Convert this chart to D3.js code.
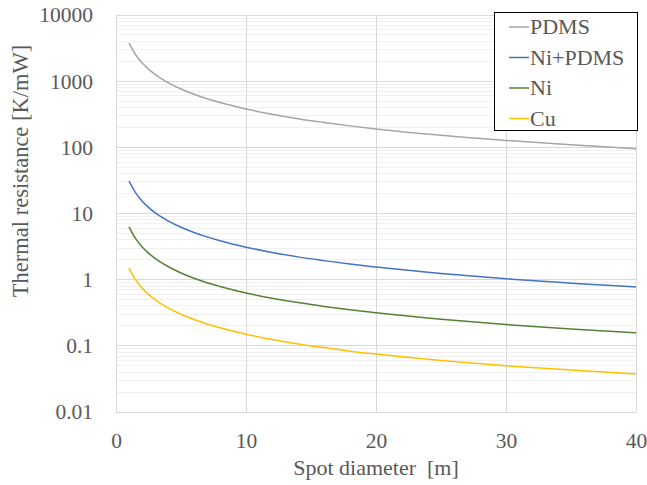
<!DOCTYPE html>
<html><head><meta charset="utf-8">
<script src="https://cdn.jsdelivr.net/npm/d3@7"></script>
<style>body{margin:0;background:#fff}svg{display:block}</style>
</head><body>
<script>
const xValues = [1,1.5,2,2.5,3,4,5,6,7,8,10,12,14,16,18,20,25,30,35,40];
const pdms   = [3800,2530,1900,1520,1270,950,760,633,543,475,380,317,271,238,211,190,152,127,109,95];
const niPdms = [31,20.7,15.5,12.4,10.3,7.75,6.2,5.17,4.43,3.88,3.1,2.58,2.21,1.94,1.72,1.55,1.24,1.03,0.886,0.775];
const ni     = [6.3,4.2,3.15,2.52,2.1,1.58,1.26,1.05,0.9,0.79,0.63,0.525,0.45,0.394,0.35,0.315,0.252,0.21,0.18,0.158];
const cu     = [1.5,1.0,0.75,0.6,0.5,0.375,0.3,0.25,0.214,0.188,0.15,0.125,0.107,0.094,0.083,0.075,0.06,0.05,0.043,0.0375];
const seriesNames = ["PDMS","Ni+PDMS","Ni","Cu"];
const seriesValues = [pdms, niPdms, ni, cu];
const seriesColors = ["#a5a5a5","#4472c4","#548235","#ffc000"];
const xTicks = [0,10,20,30,40];
const yTicks = [0.01,0.1,1,10,100,1000,10000];
const yTickLabels = ["0.01","0.1","1","10","100","1000","10000"];

const W = 647, H = 485;
const m = {left:116, right:11, top:15, bottom:73};
const svg = d3.select("body").append("svg").attr("width",W).attr("height",H);
const x = d3.scaleLinear().domain([0,40]).range([m.left, W-m.right]);
const y = d3.scaleLog().domain([0.01,10000]).range([H-m.bottom, m.top]);
const font = "'Liberation Serif','Times New Roman',serif";
const txt = "#595959";

// minor gridlines
const minor = [];
for (let e=-2; e<4; e++) for (let k=2;k<10;k++) minor.push(k*Math.pow(10,e));
svg.append("g").selectAll("line").data(minor).join("line")
  .attr("x1",x(0)).attr("x2",x(40)).attr("y1",d=>y(d)).attr("y2",d=>y(d))
  .attr("stroke","#f0f0f0").attr("stroke-width",1).attr("shape-rendering","crispEdges");
// major gridlines
svg.append("g").selectAll("line").data(yTicks).join("line")
  .attr("x1",x(0)).attr("x2",x(40)).attr("y1",d=>y(d)).attr("y2",d=>y(d))
  .attr("stroke","#d9d9d9").attr("stroke-width",1).attr("shape-rendering","crispEdges");
svg.append("g").selectAll("line").data(xTicks).join("line")
  .attr("x1",d=>x(d)).attr("x2",d=>x(d)).attr("y1",y(0.01)).attr("y2",y(10000))
  .attr("stroke","#d9d9d9").attr("stroke-width",1).attr("shape-rendering","crispEdges");

// axes labels
const yAxis = d3.axisLeft(y).tickValues(yTicks).tickFormat((d,i)=>yTickLabels[i]).tickSize(0).tickPadding(23);
const gy = svg.append("g").attr("transform",`translate(${x(0)},0)`).call(yAxis);
gy.select(".domain").remove();
gy.selectAll("text").attr("font-family",font).attr("font-size",21.5).attr("fill",txt);
const xAxis = d3.axisBottom(x).tickValues(xTicks).tickFormat(d3.format("d")).tickSize(0).tickPadding(21);
const gx = svg.append("g").attr("transform",`translate(0,${y(0.01)})`).call(xAxis);
gx.select(".domain").remove();
gx.selectAll("text").attr("font-family",font).attr("font-size",21.5).attr("fill",txt);

// lines
const line = d3.line().x((d,i)=>x(xValues[i])).y(d=>y(d)).curve(d3.curveMonotoneX);
svg.append("g").selectAll("path").data(seriesValues).join("path")
  .attr("d",d=>line(d)).attr("fill","none")
  .attr("stroke",(d,i)=>seriesColors[i]).attr("stroke-width",1.5);

// axis titles
svg.append("text").attr("x",376).attr("y",475).attr("text-anchor","middle")
  .style("white-space","pre")
  .attr("font-family",font).attr("font-size",22).attr("fill",txt).text("Spot diameter  [m]");
svg.append("text").attr("transform",`translate(28,171) rotate(-90)`)
  .attr("text-anchor","middle").attr("font-family",font).attr("font-size",22.5).attr("fill",txt)
  .text("Thermal resistance [K/mW]");

// legend
const lg = svg.append("g");
lg.append("rect").attr("x",494.5).attr("y",12.5).attr("width",143).attr("height",118)
  .attr("fill","#fff").attr("stroke","#000").attr("stroke-width",1);
seriesNames.forEach((n,i)=>{
  const yy = 27 + i*30.5;
  lg.append("line").attr("x1",509).attr("x2",529).attr("y1",yy).attr("y2",yy)
    .attr("stroke",seriesColors[i]).attr("stroke-width",1.5);
  lg.append("text").attr("x",530).attr("y",yy+7).attr("font-family",font).attr("font-size",22)
    .attr("fill",txt).text(n);
});
</script>
</body></html>
